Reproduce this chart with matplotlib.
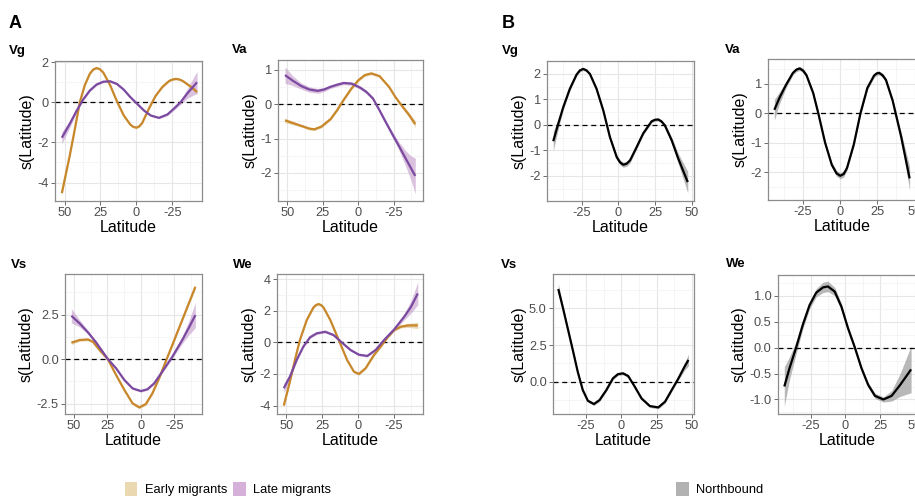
#importing libraries
import numpy as np
import matplotlib
matplotlib.use('Agg')
from matplotlib import pyplot as plt
from matplotlib.patches import Patch

plt.rcParams['font.family'] = ['Liberation Sans', 'DejaVu Sans']
plt.rcParams['axes.unicode_minus'] = False

# ---------------- panel A : early vs late migrants ----------------
vg_early_lat = [51.9, 46.5, 43.0, 39.4, 35.9, 32.4, 30.0, 27.7, 25.4, 23.0, 18.3, 13.6, 8.9, 4.2, 2.1, 0.0, -2.0, -4.0, -8.7, -13.4, -18.1, -22.8, -25.2, -27.5, -29.9, -32.2, -36.9, -42.2]
vg_early = [-4.53, -2.7, -1.4, 0.0, 0.85, 1.42, 1.63, 1.70, 1.64, 1.47, 0.85, 0.05, -0.65, -1.12, -1.23, -1.27, -1.20, -1.04, -0.32, 0.32, 0.76, 1.06, 1.13, 1.16, 1.13, 1.06, 0.82, 0.51]
vg_early_se = [0.12, 0.08, 0.06, 0.05, 0.05, 0.05, 0.05, 0.05, 0.05, 0.05, 0.05, 0.05, 0.05, 0.05, 0.05, 0.05, 0.05, 0.05, 0.05, 0.05, 0.05, 0.05, 0.05, 0.05, 0.05, 0.05, 0.07, 0.12]
vg_late_lat = [51.9, 46.5, 41.8, 37.1, 32.4, 27.7, 23.0, 18.3, 13.6, 8.9, 4.2, -0.5, -5.2, -9.9, -15.7, -21.6, -26.3, -31.0, -35.7, -42.2]
vg_late = [-1.77, -1.1, -0.45, 0.13, 0.58, 0.88, 1.02, 1.04, 0.91, 0.63, 0.25, -0.08, -0.41, -0.66, -0.78, -0.61, -0.31, 0.02, 0.46, 0.99]
vg_late_se = [0.3, 0.18, 0.1, 0.06, 0.05, 0.05, 0.05, 0.05, 0.05, 0.05, 0.05, 0.05, 0.05, 0.05, 0.05, 0.06, 0.08, 0.12, 0.25, 0.55]

va_early_lat = [51.7, 46.0, 40.2, 34.5, 31.0, 26.0, 19.5, 14.9, 10.3, 5.0, 0.0, -4.6, -9.2, -15.0, -21.8, -26.0, -29.9, -35.6, -40.2]
va_early = [-0.47, -0.55, -0.63, -0.71, -0.73, -0.65, -0.43, -0.17, 0.13, 0.45, 0.70, 0.85, 0.90, 0.82, 0.50, 0.22, 0.0, -0.30, -0.58]
va_early_se = [0.07, 0.05, 0.04, 0.04, 0.04, 0.04, 0.04, 0.04, 0.04, 0.04, 0.04, 0.04, 0.04, 0.04, 0.04, 0.04, 0.05, 0.07, 0.1]
va_late_lat = [51.7, 46.0, 40.2, 34.5, 28.7, 24.1, 19.5, 14.9, 10.3, 4.6, -1.1, -5.7, -10.3, -15.0, -19.5, -24.1, -28.7, -33.3, -37.0, -40.2]
va_late = [0.85, 0.68, 0.53, 0.43, 0.39, 0.43, 0.51, 0.57, 0.62, 0.60, 0.49, 0.36, 0.17, -0.18, -0.53, -0.88, -1.22, -1.57, -1.85, -2.09]
va_late_se = [0.24, 0.14, 0.09, 0.08, 0.07, 0.06, 0.05, 0.05, 0.05, 0.05, 0.05, 0.05, 0.05, 0.05, 0.06, 0.08, 0.12, 0.22, 0.35, 0.52]

vs_early_lat = [51.9, 45.7, 39.5, 35.8, 30.9, 24.7, 18.5, 12.3, 6.2, 1.2, -3.7, -8.6, -13.6, -18.5, -23.5, -28.4, -34.6, -40.7]
vs_early = [0.92, 1.07, 1.10, 0.97, 0.51, 0.0, -0.9, -1.74, -2.49, -2.72, -2.53, -1.93, -1.09, -0.15, 0.79, 1.72, 2.9, 4.06]
vs_early_se = [0.1, 0.07, 0.07, 0.07, 0.07, 0.07, 0.07, 0.07, 0.07, 0.07, 0.07, 0.07, 0.07, 0.07, 0.07, 0.07, 0.08, 0.12]
vs_late_lat = [51.9, 45.7, 39.5, 33.3, 24.7, 18.5, 12.3, 6.2, 0.0, -4.9, -9.9, -16.0, -23.5, -30.9, -35.8, -40.7]
vs_late = [2.43, 2.0, 1.5, 0.92, 0.0, -0.52, -1.18, -1.65, -1.8, -1.7, -1.37, -0.71, 0.13, 1.07, 1.75, 2.47]
vs_late_se = [0.4, 0.2, 0.1, 0.07, 0.06, 0.06, 0.06, 0.06, 0.06, 0.06, 0.06, 0.07, 0.1, 0.2, 0.4, 0.7]

we_early_lat = [51.9, 47.6, 44.1, 40.6, 35.8, 31.1, 29.3, 27.6, 25.8, 24.1, 19.3, 13.4, 7.5, 2.8, -0.7, -5.4, -11.3, -16.0, -20.8, -25.5, -30.2, -34.9, -42.0]
we_early = [-4.0, -2.48, -1.12, 0.15, 1.41, 2.21, 2.36, 2.42, 2.36, 2.21, 1.41, 0.15, -1.12, -1.85, -2.0, -1.64, -0.8, -0.27, 0.32, 0.78, 0.99, 1.07, 1.07]
we_early_se = [0.12, 0.08, 0.08, 0.08, 0.08, 0.08, 0.08, 0.08, 0.08, 0.08, 0.08, 0.08, 0.08, 0.08, 0.08, 0.08, 0.08, 0.08, 0.08, 0.08, 0.08, 0.12, 0.2]
we_late_lat = [51.9, 47.6, 42.9, 38.2, 33.5, 28.8, 22.9, 17.0, 11.1, 5.2, -0.7, -6.6, -12.5, -18.4, -25.5, -32.5, -37.3, -42.0]
we_late = [-2.9, -2.17, -1.12, -0.27, 0.32, 0.57, 0.67, 0.46, -0.02, -0.48, -0.78, -0.86, -0.48, 0.15, 0.82, 1.62, 2.25, 3.09]
we_late_se = [0.3, 0.18, 0.1, 0.07, 0.07, 0.07, 0.07, 0.07, 0.07, 0.07, 0.07, 0.07, 0.07, 0.07, 0.1, 0.2, 0.4, 0.72]

# ---------------- panel B : northbound ----------------
vg_north_lat = [-44.3, -40.9, -37.5, -33.0, -28.4, -26.2, -23.9, -21.6, -19.3, -14.8, -10.2, -5.7, -1.1, 1.2, 3.4, 5.7, 8.0, 12.5, 17.0, 22.7, 25.0, 27.3, 29.5, 31.8, 36.4, 40.9, 47.3]
vg_north = [-0.64, 0.04, 0.69, 1.41, 1.97, 2.13, 2.19, 2.13, 1.99, 1.41, 0.56, -0.48, -1.26, -1.47, -1.56, -1.52, -1.39, -0.87, -0.33, 0.14, 0.20, 0.21, 0.13, -0.03, -0.61, -1.33, -2.24]
vg_north_se = [0.38, 0.2, 0.1, 0.07, 0.06, 0.06, 0.06, 0.06, 0.06, 0.06, 0.06, 0.07, 0.1, 0.1, 0.1, 0.1, 0.1, 0.07, 0.06, 0.06, 0.06, 0.06, 0.06, 0.08, 0.12, 0.2, 0.42]

va_north_lat = [-44.3, -40.9, -36.4, -31.8, -29.5, -27.3, -25.0, -22.7, -18.2, -14.8, -10.2, -5.7, -2.5, 0.0, 2.3, 4.5, 9.1, 13.6, 18.2, 22.7, 24.4, 26.1, 28.4, 30.7, 35.2, 40.9, 46.6]
va_north = [0.11, 0.51, 0.96, 1.36, 1.47, 1.51, 1.44, 1.28, 0.68, 0.0, -1.0, -1.75, -2.04, -2.12, -2.06, -1.86, -1.06, 0.0, 0.85, 1.27, 1.34, 1.36, 1.28, 1.12, 0.42, -0.8, -2.21]
va_north_se = [0.35, 0.2, 0.1, 0.07, 0.07, 0.07, 0.07, 0.07, 0.07, 0.07, 0.07, 0.08, 0.1, 0.1, 0.1, 0.08, 0.07, 0.07, 0.07, 0.07, 0.07, 0.07, 0.07, 0.07, 0.08, 0.15, 0.4]

vs_north_lat = [-44.8, -41.7, -38.1, -34.5, -31.0, -27.4, -23.8, -19.5, -15.5, -10.7, -6.0, -2.4, 1.2, 4.8, 9.5, 14.3, 20.2, 26.2, 31.0, 35.7, 40.5, 44.8, 47.6]
vs_north = [6.32, 5.11, 3.64, 2.16, 0.68, -0.57, -1.3, -1.52, -1.25, -0.57, 0.23, 0.52, 0.57, 0.39, -0.34, -1.14, -1.66, -1.75, -1.36, -0.57, 0.23, 1.02, 1.48]
vs_north_se = [0.35, 0.2, 0.12, 0.1, 0.1, 0.1, 0.1, 0.1, 0.1, 0.1, 0.1, 0.1, 0.1, 0.1, 0.1, 0.1, 0.1, 0.1, 0.1, 0.1, 0.12, 0.25, 0.4]

we_north_lat = [-44.0, -40.3, -35.5, -30.7, -25.8, -21.0, -16.2, -12.6, -7.7, -2.9, 1.9, 6.8, 11.6, 16.4, 21.3, 27.3, 33.3, 39.4, 47.3]
we_north = [-0.75, -0.40, 0.0, 0.44, 0.82, 1.06, 1.16, 1.18, 1.08, 0.79, 0.37, 0.0, -0.40, -0.72, -0.93, -1.0, -0.93, -0.72, -0.42]
we_north_se = [0.38, 0.22, 0.12, 0.08, 0.07, 0.08, 0.1, 0.1, 0.08, 0.06, 0.05, 0.05, 0.05, 0.05, 0.05, 0.05, 0.1, 0.22, 0.45]

early_col, early_fill = '#c8872a', '#dcc08a'
late_col, late_fill = '#7b4aa0', '#c49ccc'
north_col, north_fill = 'black', '#9a9a9a'

W, H = 915, 497
fig = plt.figure(figsize=(W/100, H/100), dpi=100)


def box(l, t, r, b):
    # pixel box -> figure fraction
    return [l/W, 1 - b/H, (r - l)/W, (b - t)/H]


def make_ax(rect, xlim, xt, ylim, yt, ylab):
    ax = fig.add_axes(box(*rect))
    ax.set_xticks(xt, [str(v) for v in xt])
    ax.set_yticks(yt, ylab)
    xs = np.sort(xt)
    ax.set_xticks(list(xs[:-1] + 12.5) + [xs[0] - 12.5], minor=True)
    ys = np.array(yt, dtype=float)
    step = ys[1] - ys[0]
    ax.set_yticks(list(np.concatenate([ys - step/2, [ys[-1] + step/2]])), minor=True)
    ax.set_xlim(*xlim)
    ax.set_ylim(*ylim)
    ax.grid(which='major', color='#e6e6e6', lw=0.8)
    ax.grid(which='minor', color='#f2f2f2', lw=0.5)
    ax.set_axisbelow(True)
    for s in ax.spines.values():
        s.set_color('#8c8c8c')
        s.set_linewidth(0.9)
    ax.tick_params(which='major', length=3, width=0.6, color='#555555',
                   labelsize=9.2, labelcolor='#4d4d4d', pad=1.5)
    ax.tick_params(which='minor', length=0)
    ax.axhline(0, color='black', ls=(0, (4, 3)), lw=0.9, zorder=2)
    ax.set_xlabel('Latitude', fontsize=11.5, labelpad=0.5)
    ax.set_ylabel('s(Latitude)', fontsize=11.5, labelpad=2)
    return ax


def curve(ax, lat, val, se, col, fill, a=0.6):
    lat = np.array(lat)
    val = np.array(val)
    se = np.array(se)
    ax.fill_between(lat, val - se, val + se, color=fill, alpha=a, lw=0, zorder=1)
    ax.plot(lat, val, color=col, lw=1.6, zorder=3, solid_joinstyle='round',
            solid_capstyle='butt')


xa = (56.65, -45.65)
xa_t = [50, 25, 0, -25]
xb = (-48.55, 51.55)
xb_t = [-25, 0, 25, 50]

ax = make_ax((55, 61, 202, 201), xa, xa_t, (-4.92, 2.05), [-4, -2, 0, 2], ['-4', '-2', '0', '2'])
curve(ax, vg_early_lat, vg_early, vg_early_se, early_col, early_fill)
curve(ax, vg_late_lat, vg_late, vg_late_se, late_col, late_fill)

ax = make_ax((278, 60, 423, 201), xa, xa_t, (-2.82, 1.29), [-2, -1, 0, 1], ['-2', '-1', '0', '1'])
curve(ax, va_early_lat, va_early, va_early_se, early_col, early_fill)
curve(ax, va_late_lat, va_late, va_late_se, late_col, late_fill)

ax = make_ax((65, 274, 202, 414), xa, xa_t, (-3.09, 4.78), [-2.5, 0, 2.5], ['-2.5', '0.0', '2.5'])
curve(ax, vs_early_lat, vs_early, vs_early_se, early_col, early_fill)
curve(ax, vs_late_lat, vs_late, vs_late_se, late_col, late_fill)

ax = make_ax((277, 274, 423, 414), xa, xa_t, (-4.53, 4.32), [-4, -2, 0, 2, 4], ['-4', '-2', '0', '2', '4'])
curve(ax, we_early_lat, we_early, we_early_se, early_col, early_fill)
curve(ax, we_late_lat, we_late, we_late_se, late_col, late_fill)

ax = make_ax((547, 61, 694, 201), xb, xb_t, (-2.98, 2.5), [-3, -2, -1, 0, 1, 2], ['-3', '-2', '-1', '0', '1', '2'])
curve(ax, vg_north_lat, vg_north, vg_north_se, north_col, north_fill, 0.7)

ax = make_ax((768, 59, 917, 200), xb, xb_t, (-2.94, 1.83), [-2, -1, 0, 1], ['-2', '-1', '0', '1'])
curve(ax, va_north_lat, va_north, va_north_se, north_col, north_fill, 0.7)

ax = make_ax((553, 274, 694, 414), xb, xb_t, (-2.2, 7.34), [0, 2.5, 5.0], ['0.0', '2.5', '5.0'])
curve(ax, vs_north_lat, vs_north, vs_north_se, north_col, north_fill, 0.7)

ax = make_ax((778, 275, 917, 414), xb, xb_t, (-1.28, 1.40), [-1.0, -0.5, 0.0, 0.5, 1.0], ['-1.0', '-0.5', '0.0', '0.5', '1.0'])
curve(ax, we_north_lat, we_north, we_north_se, north_col, north_fill, 0.7)

# panel letters and titles
def ftext(x, y, s, size, weight='bold'):
    fig.text(x/W, 1 - y/H, s, fontsize=size, fontweight=weight, va='top', ha='left')

ftext(9, 15, 'A', 13)
ftext(502, 15, 'B', 13)
ftext(9, 45, 'Vg', 9.5)
ftext(232, 44, 'Va', 9.5)
ftext(11, 259, 'Vs', 9.5)
ftext(233, 259, 'We', 9.5)
ftext(502, 45, 'Vg', 9.5)
ftext(725, 44, 'Va', 9.5)
ftext(501, 259, 'Vs', 9.5)
ftext(726, 258, 'We', 9.5)

# legends
leg_a = [Patch(facecolor='#ead8b1', edgecolor='none', label='Early migrants'),
         Patch(facecolor='#d5b1d9', edgecolor='none', label='Late migrants')]
fig.legend(handles=leg_a, loc='center', bbox_to_anchor=(228/W, 1 - 489/H), ncol=2,
           frameon=False, fontsize=9.3, handlelength=1.0, handleheight=1.3,
           handletextpad=0.55, columnspacing=0.5, borderpad=0)
leg_b = [Patch(facecolor='#b2b2b2', edgecolor='none', label='Northbound')]
fig.legend(handles=leg_b, loc='center', bbox_to_anchor=(720/W, 1 - 489/H), ncol=1,
           frameon=False, fontsize=9.3, handlelength=1.0, handleheight=1.3,
           handletextpad=0.55, borderpad=0)

fig.savefig('out.png', dpi=100, facecolor='white')
